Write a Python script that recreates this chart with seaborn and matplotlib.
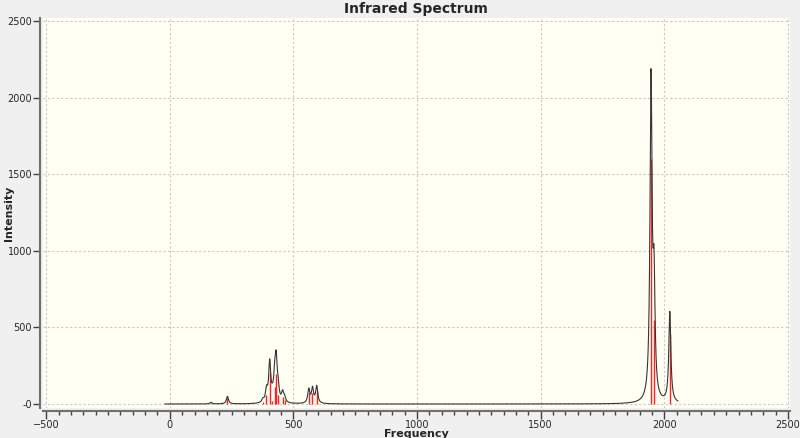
import numpy as np
import pandas as pd
import matplotlib
matplotlib.use("Agg")
import matplotlib.pyplot as plt
import seaborn as sns
from matplotlib.ticker import MultipleLocator, FixedLocator

# stick spectrum (cm-1, km/mol)
freqs = [166, 233, 376, 391, 404, 415, 424, 430, 438, 456, 464,
         562, 577, 594, 1946, 1958, 2022]
intens = [8, 38, 15, 60, 200, 20, 110, 196, 60, 48, 25,
          70, 75, 86, 1600, 550, 455]

y_ticks = [0, 500, 1000, 1500, 2000, 2500]
y_labels = ["-0", "500", "1000", "1500", "2000", "2500"]
x_ticks = [-500, 0, 500, 1000, 1500, 2000, 2500]

# lorentzian broadening of the sticks
hwhm = 5.0
scale = 1.3
grid = np.linspace(-20, 2055, 10000)
curve = np.zeros_like(grid)
for f, i in zip(freqs, intens):
    curve += scale * i * hwhm**2 / ((grid - f) ** 2 + hwhm**2)

spec = pd.DataFrame({"Frequency": grid, "Intensity": curve})

sns.set_style("white")
plt.rcParams["font.family"] = ["DejaVu Sans"]

fig = plt.figure(figsize=(8, 4.38), dpi=100, facecolor="#f0f0f0")
ax = fig.add_axes([0.054, 0.0685, 0.9335, 0.8905])
ax.set_facecolor("#fffff4")

ax.vlines(freqs, 0, intens, color="#ff2020", lw=1.0, zorder=2)
sns.lineplot(data=spec, x="Frequency", y="Intensity", color="#353535",
             lw=0.8, sort=False, ax=ax, zorder=3)

ax.set_xlim(-512, 2508)
ax.set_ylim(-26, 2520)
ax.xaxis.set_major_locator(FixedLocator(x_ticks))
ax.xaxis.set_minor_locator(MultipleLocator(50))
ax.set_yticks(y_ticks)
ax.set_yticklabels(y_labels)

ax.grid(True, which="major", color="#c8c8c8", ls=(0, (2, 2)), lw=0.8)
for s in ["top", "right"]:
    ax.spines[s].set_visible(False)
for s in ["left", "bottom"]:
    ax.spines[s].set_color("#707070")
    ax.spines[s].set_linewidth(1.5)
    ax.spines[s].set_position(("outward", 2))

ax.tick_params(axis="x", which="major", direction="out", length=6, width=1,
               color="#404040", labelsize=7, pad=0.5, bottom=True)
ax.tick_params(axis="x", which="minor", direction="out", length=3, width=1,
               color="#404040", bottom=True)
ax.tick_params(axis="y", which="major", direction="out", length=5, width=1,
               color="#404040", labelsize=7, pad=1, left=True)

ax.set_xlabel("Frequency", fontsize=8, fontweight="bold")
ax.xaxis.set_label_coords(0.5, -0.053)
ax.set_ylabel("")
fig.text(9 / 800, 0.514, "Intensity", rotation=90, ha="center", va="center",
         fontsize=8, fontweight="bold")
fig.suptitle("Infrared Spectrum", x=0.52, y=0.995, fontsize=10,
             fontweight="bold")

fig.savefig("out.png", dpi=100, facecolor=fig.get_facecolor())
